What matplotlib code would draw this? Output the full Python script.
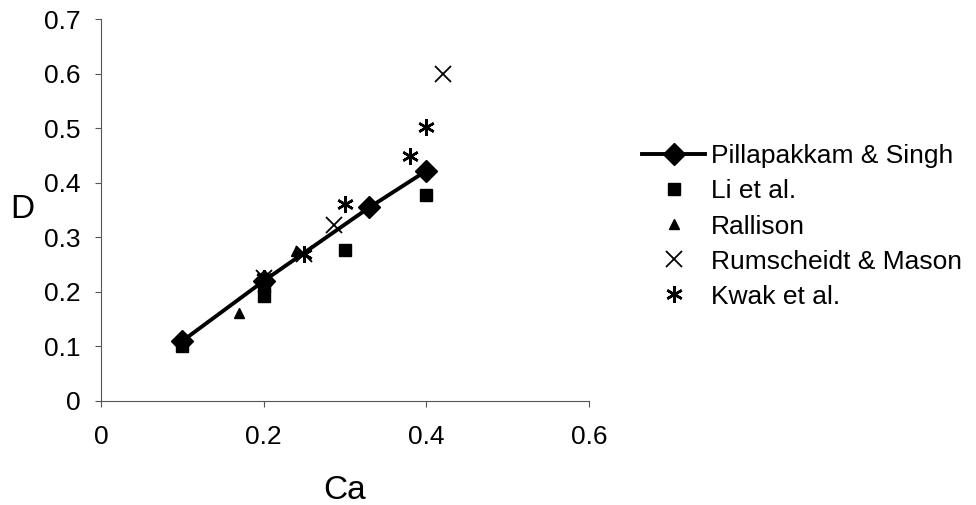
import numpy as np
import matplotlib.pyplot as plt

plt.rcParams['font.family'] = ['Liberation Sans', 'DejaVu Sans']

# Pillapakkam & Singh (line with diamonds)
ps_ca = [0.1, 0.2, 0.33, 0.4]
ps_d = [0.11, 0.22, 0.355, 0.422]

# Li et al.
li_ca = [0.1, 0.2, 0.2, 0.3, 0.4]
li_d = [0.10, 0.192, 0.21, 0.277, 0.377]

# Rallison
ra_ca = [0.17, 0.24]
ra_d = [0.161, 0.275]

# Rumscheidt & Mason
rm_ca = [0.2, 0.25, 0.286, 0.42]
rm_d = [0.225, 0.27, 0.322, 0.60]

# Kwak et al.
kw_ca = [0.2, 0.25, 0.30, 0.38, 0.40]
kw_d = [0.225, 0.27, 0.362, 0.45, 0.502]

fig = plt.figure(figsize=(9.76, 5.05), dpi=100)
ax = fig.add_axes([0.1035, 0.206, 0.5, 0.756])

ax.plot(ps_ca, ps_d, color='black', lw=2.8, marker='D', ms=11,
        label='Pillapakkam & Singh', zorder=3)
ax.plot(li_ca, li_d, ls='none', color='black', marker='s', ms=9,
        label='Li et al.', zorder=2)
ax.plot(ra_ca, ra_d, ls='none', color='black', marker='^', ms=7,
        label='Rallison', zorder=2)
ax.plot(rm_ca, rm_d, ls='none', color='black', marker='x', ms=11,
        mew=1.3, label='Rumscheidt & Mason', zorder=2)
ax.plot(kw_ca, kw_d, ls='none', color='black', marker=(6, 2, 0), ms=12,
        mew=1.8, label='Kwak et al.', zorder=2)

ax.set_xlim(0, 0.6)
ax.set_ylim(0, 0.7)
ax.set_xticks([0, 0.2, 0.4, 0.6])
ax.set_xticklabels(['0', '0.2', '0.4', '0.6'])
ax.set_yticks(np.arange(0, 0.71, 0.1))
ax.set_yticklabels(['0', '0.1', '0.2', '0.3', '0.4', '0.5', '0.6', '0.7'])
ax.tick_params(labelsize=19, direction='out', length=4.5, color='#555555', width=0.8)
ax.tick_params(axis='x', pad=13)
ax.tick_params(axis='y', pad=10)

for s in ['top', 'right']:
    ax.spines[s].set_visible(False)
for s in ['left', 'bottom']:
    ax.spines[s].set_color('#555555')
    ax.spines[s].set_linewidth(0.8)

ax.set_xlabel('Ca', fontsize=24)
ax.set_ylabel('D', fontsize=24, rotation=0)
ax.xaxis.set_label_coords(0.5, -0.195)
ax.yaxis.set_label_coords(-0.162, 0.46)

fig.legend(loc='upper left', bbox_to_anchor=(0.647, 0.735), frameon=False,
           fontsize=19, handlelength=2.4, handletextpad=0.2,
           labelspacing=0.42, borderaxespad=0)

fig.savefig('out.png', dpi=100)
